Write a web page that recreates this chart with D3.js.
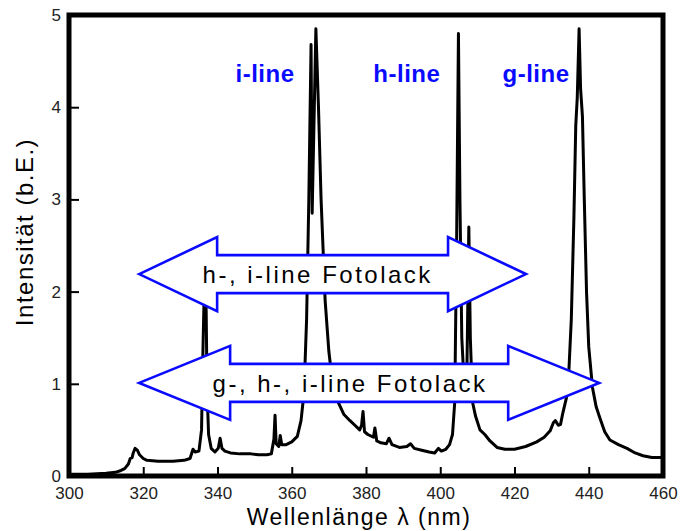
<!DOCTYPE html>
<html>
<head>
<meta charset="utf-8">
<script src="https://cdn.jsdelivr.net/npm/d3@7"></script>
<style>
  html, body { margin: 0; padding: 0; background: #fff; }
  svg { display: block; font-family: "Liberation Sans", Arial, sans-serif; }
</style>
</head>
<body>
<div id="chart"></div>
<script>
// spectrum of the Hg lamp
const wavelength = [300, 305, 310, 312.5, 314, 315, 316, 316.5, 317, 317.3, 317.8, 318.4, 319, 320, 321, 324, 328, 331, 332.6, 333.4,
  334, 335, 335.7, 336.1, 336.4, 336.7, 336.9, 337.2, 337.6, 338.3, 339.3, 340.2, 340.7, 341.2, 342, 343.5, 346, 349, 351, 353.3,
  354.5, 355.2, 355.5, 355.8, 356.5, 356.9, 357.3, 358.5, 360, 361.5, 362.5, 363.3, 364, 364.6, 365.2, 365.5, 366.5, 367.2, 367.9, 369,
  370, 371, 372.5, 374, 375.7, 377, 378.3, 378.8, 379.2, 379.6, 380.5, 382, 382.4, 382.9, 384, 385.5, 386.2, 387, 389, 391,
  392, 393, 395, 397, 398.5, 399.5, 400.3, 401.5, 402.5, 403.3, 403.9, 404.4, 404.9, 405.3, 405.8, 406.5, 407.2, 407.7, 408.1, 408.7,
  409.5, 410.7, 412, 413.4, 415.3, 417.4, 420, 423, 426, 428, 429.6, 430.5, 431, 431.8, 432.4, 433, 434, 434.6, 435.3, 436,
  436.5, 436.9, 437.4, 437.8, 438.3, 438.8, 439.4, 440, 441, 442, 443, 444.3, 445.7, 448, 450.3, 452.5, 454.6, 457, 459, 460];
const intensity = [0.02, 0.02, 0.03, 0.04, 0.06, 0.08, 0.13, 0.19, 0.2, 0.25, 0.3, 0.28, 0.23, 0.19, 0.17, 0.16, 0.16, 0.17, 0.19, 0.29,
  0.26, 0.27, 0.5, 1.4, 1.95, 1.9, 1.95, 0.9, 0.45, 0.3, 0.26, 0.3, 0.41, 0.3, 0.27, 0.25, 0.24, 0.24, 0.23, 0.23,
  0.24, 0.4, 0.66, 0.35, 0.32, 0.44, 0.34, 0.34, 0.37, 0.43, 0.6, 0.9, 1.7, 3.0, 4.68, 2.85, 4.85, 4.0, 3.0, 1.9,
  1.35, 1.0, 0.8, 0.67, 0.6, 0.55, 0.5, 0.55, 0.7, 0.48, 0.45, 0.42, 0.52, 0.38, 0.36, 0.35, 0.41, 0.34, 0.31, 0.32,
  0.35, 0.3, 0.28, 0.26, 0.25, 0.3, 0.27, 0.29, 0.34, 0.45, 0.8, 2.5, 4.8, 3.0, 1.5, 0.95, 1.2, 2.7, 1.5, 0.8,
  0.65, 0.5, 0.45, 0.38, 0.31, 0.29, 0.29, 0.32, 0.37, 0.42, 0.49, 0.58, 0.6, 0.55, 0.56, 0.68, 0.85, 1.1, 1.7, 2.8,
  3.8, 4.1, 4.85, 4.2, 3.9, 3.0, 2.0, 1.4, 0.96, 0.75, 0.63, 0.48, 0.39, 0.34, 0.3, 0.25, 0.22, 0.2, 0.2, 0.2];

const xTicks = [300, 320, 340, 360, 380, 400, 420, 440, 460];
const yTicks = [0, 1, 2, 3, 4, 5];

// line names above the peaks
const lineNames = ['i-line', 'h-line', 'g-line'];
const lineNameAt = [352.8, 391, 425.8];
const lineNameLevel = 4.27;

// resist ranges (double arrows)
const arrowText = ['h-, i-line Fotolack', 'g-, h-, i-line Fotolack'];
const arrowFrom = [318.9, 318.9];
const arrowTo = [423.1, 442.8];
const arrowLevel = [2.19, 1.01];
const arrowHead = [21, 24.5];   // head length in nm
const arrowTextAt = [367, 375.7];

const width = 686, height = 531;
const margin = {top: 15, right: 23, bottom: 55, left: 69};

const svg = d3.select('#chart')
  .append('svg')
    .attr('width', width)
    .attr('height', height);

const x = d3.scaleLinear()
  .domain([300, 460])
  .range([margin.left, width - margin.right]);

const y = d3.scaleLinear()
  .domain([0, 5])
  .range([height - margin.bottom, margin.top]);

// ticks (inside)
svg.append('g')
  .attr('transform', `translate(0,${height - margin.bottom})`)
  .call(d3.axisBottom(x).tickValues(xTicks).tickFormat(d3.format('d')).tickSizeInner(-9).tickSizeOuter(0).tickPadding(11))
  .call(g => g.select('.domain').remove())
  .call(g => g.selectAll('line').attr('stroke', '#000').attr('stroke-width', 2))
  .call(g => g.selectAll('text').attr('fill', '#222').style('font-size', '17px'));

svg.append('g')
  .attr('transform', `translate(${margin.left},0)`)
  .call(d3.axisLeft(y).tickValues(yTicks).tickFormat(d3.format('d')).tickSizeInner(-10).tickSizeOuter(0).tickPadding(8))
  .call(g => g.select('.domain').remove())
  .call(g => g.selectAll('line').attr('stroke', '#000').attr('stroke-width', 2))
  .call(g => g.selectAll('text').attr('fill', '#222').style('font-size', '17px'));

// spectrum
const line = d3.line()
  .x((d, i) => x(wavelength[i]))
  .y(d => y(d));

svg.append('path')
  .datum(intensity)
  .attr('d', line)
  .attr('fill', 'none')
  .attr('stroke', '#000')
  .attr('stroke-width', 3)
  .attr('stroke-linejoin', 'round');

// frame
svg.append('rect')
  .attr('x', margin.left)
  .attr('y', margin.top)
  .attr('width', width - margin.left - margin.right)
  .attr('height', height - margin.top - margin.bottom)
  .attr('fill', 'none')
  .attr('stroke', '#000')
  .attr('stroke-width', 5);

// double arrows
arrowText.forEach((t, i) => {
  let x0 = x(arrowFrom[i]), x1 = x(arrowTo[i]), cy = y(arrowLevel[i]);
  let hl = x(300 + arrowHead[i]) - x(300);
  let headH = 37, bodyH = 19;
  let pts = [
    [x0, cy], [x0 + hl, cy - headH], [x0 + hl, cy - bodyH], [x1 - hl, cy - bodyH], [x1 - hl, cy - headH],
    [x1, cy], [x1 - hl, cy + headH], [x1 - hl, cy + bodyH], [x0 + hl, cy + bodyH], [x0 + hl, cy + headH]
  ];
  svg.append('polygon')
    .attr('points', pts.map(p => p.join(',')).join(' '))
    .attr('fill', '#fff')
    .attr('stroke', '#0a0aff')
    .attr('stroke-width', 2.6);

  svg.append('text')
    .attr('x', x(arrowTextAt[i]))
    .attr('y', cy + 9)
    .attr('text-anchor', 'middle')
    .style('font-size', '24px')
    .style('letter-spacing', '2.5px')
    .attr('fill', '#000')
    .text(t);
});

// line names
svg.selectAll('.lname')
  .data(lineNames)
  .enter()
  .append('text')
    .attr('class', 'lname')
    .attr('x', (d, i) => x(lineNameAt[i]))
    .attr('y', y(lineNameLevel))
    .attr('text-anchor', 'middle')
    .style('font-size', '24px')
    .style('font-weight', 'bold')
    .style('letter-spacing', '0.5px')
    .attr('fill', '#0a0aff')
    .text(d => d);

// axis titles
svg.append('text')
  .attr('transform', `translate(33,232) rotate(-90)`)
  .attr('text-anchor', 'middle')
  .style('font-size', '24px')
  .style('letter-spacing', '1.5px')
  .text('Intensität (b.E.)');

svg.append('text')
  .attr('x', 359)
  .attr('y', 525)
  .attr('text-anchor', 'middle')
  .style('font-size', '23px')
  .style('letter-spacing', '1.5px')
  .text('Wellenlänge λ (nm)');
</script>
</body>
</html>
